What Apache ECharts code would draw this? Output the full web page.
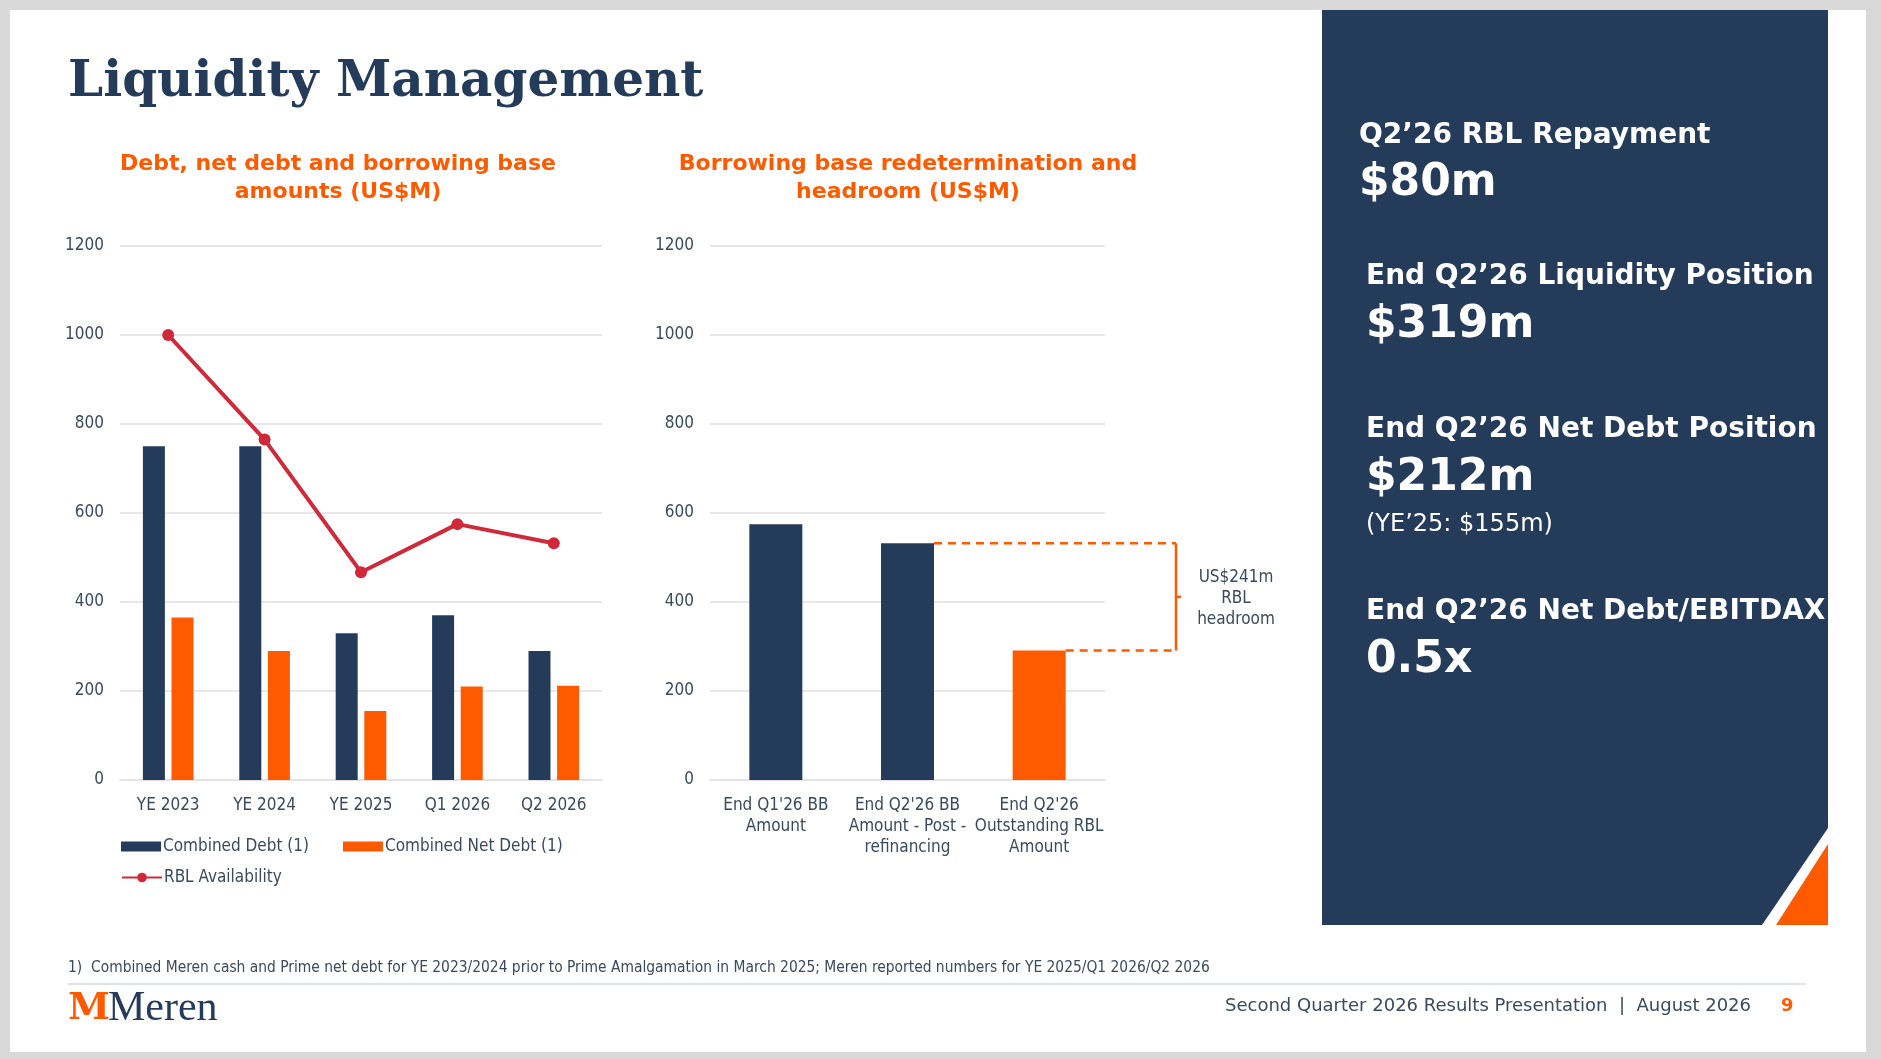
<!DOCTYPE html>
<html><head><meta charset="utf-8">
<script src="https://cdn.jsdelivr.net/npm/echarts@6/dist/echarts.min.js"></script>
<style>html,body{margin:0;padding:0;background:#d9d9d9}#c{width:1881px;height:1059px}</style>
</head><body><div id="c"></div>
<script>
const categories = ['YE 2023','YE 2024','YE 2025','Q1 2026','Q2 2026'];
const combinedDebt = [750, 750, 330, 370, 290];
const combinedNetDebt = [365, 290, 155, 210, 212];
const rblAvailability = [1000, 765, 467, 575, 532];
const bbCategories = ["End Q1'26 BB\nAmount", "End Q2'26 BB\nAmount - Post -\nrefinancing", "End Q2'26\nOutstanding RBL\nAmount"];
const bbValues = [575, 532, 291];
const yTicks = {min:0, max:1200, interval:200};

const NAVY = '#243b5a', ORANGE = '#ff5a00', RED = '#d0293a';
const F = '"DejaVu Sans Condensed","DejaVu Sans",sans-serif';
const chart = echarts.init(document.getElementById('c'));

const yAxisBase = (gi) => ({type:'value', gridIndex:gi, min:yTicks.min, max:yTicks.max, interval:yTicks.interval,
  axisLine:{show:false}, axisTick:{show:false},
  axisLabel:{color:'#3a4a5e', fontFamily:F, fontSize:17, margin:16, formatter:v=>String(v)},
  splitLine:{lineStyle:{color:'#e3dfe3', width:1.5}}});
const xAxisBase = (gi, data) => ({type:'category', gridIndex:gi, data,
  axisLine:{lineStyle:{color:'#e3dfe3', width:1.5}}, axisTick:{show:false},
  axisLabel:{color:'#3a4a5e', fontFamily:F, fontSize:17, margin:15, lineHeight:21, interval:0}});

const panelX = 1322, panelY = 10, panelW = 506, panelH = 915;
function txt(x, y, text, size, color, weight, family, extra) {
  return Object.assign({type:'text', left:x, top:y, style:{text, fill:color, font:(weight||'normal')+' '+size+'px '+(family||F)}}, extra||{});
}
const PF = '"DejaVu Sans",Verdana,sans-serif';

const graphics = [
  {type:'rect', left:10, top:10, shape:{width:1856, height:1042}, style:{fill:'#ffffff'}, z:-10},
  {type:'rect', left:panelX, top:panelY, shape:{width:panelW, height:panelH}, style:{fill:NAVY}, z:-5},
  {type:'polygon', shape:{points:[[1828,828],[1828,925],[1762,925]]}, style:{fill:'#ffffff'}, z:-4},
  {type:'polygon', shape:{points:[[1828,844],[1828,925],[1776,925]]}, style:{fill:ORANGE}, z:-3},
  txt(68, 58, 'Liquidity Management', 50, NAVY, 'bold', '"DejaVu Serif","Liberation Serif",serif'),
  txt(1359, 122, 'Q2\u201926 RBL Repayment', 28, '#ffffff', 'bold', PF),
  txt(1359, 162, '$80m', 44, '#ffffff', 'bold', PF),
  txt(1366, 263, 'End Q2\u201926 Liquidity Position', 28, '#ffffff', 'bold', PF),
  txt(1366, 304, '$319m', 44, '#ffffff', 'bold', PF),
  txt(1366, 416, 'End Q2\u201926 Net Debt Position', 28, '#ffffff', 'bold', PF),
  txt(1366, 457, '$212m', 44, '#ffffff', 'bold', PF),
  txt(1366, 513, '(YE\u201925: $155m)', 24, '#ffffff', 'normal', PF),
  txt(1366, 598, 'End Q2\u201926 Net Debt/EBITDAX', 28, '#ffffff', 'bold', PF),
  txt(1366, 639, '0.5x', 44, '#ffffff', 'bold', PF),
  {type:'text', x:338, y:150, style:{text:'Debt, net debt and borrowing base\namounts (US$M)', fill:ORANGE, font:'bold 22px '+PF, align:'center', lineHeight:28}},
  {type:'text', x:908, y:150, style:{text:'Borrowing base redetermination and\nheadroom (US$M)', fill:ORANGE, font:'bold 22px '+PF, align:'center', lineHeight:28}},
  {type:'text', x:1236, y:567, style:{text:'US$241m\nRBL\nheadroom', fill:'#3a4a5e', font:'17px '+F, align:'center', lineHeight:21}},
  txt(68, 960, '1)  Combined Meren cash and Prime net debt for YE 2023/2024 prior to Prime Amalgamation in March 2025; Meren reported numbers for YE 2025/Q1 2026/Q2 2026', 15.4, '#3a4a5e', 'normal', F),
  {type:'line', shape:{x1:68, y1:984, x2:1806, y2:984}, style:{stroke:'#d4d8de', lineWidth:1.5}},
  txt(68, 990, 'M', 38, ORANGE, 'bold', '"DejaVu Serif",serif'),
  txt(108, 988, 'Meren', 42, NAVY, 'normal', '"Liberation Serif","DejaVu Serif",serif'),
  {type:'text', x:1751, y:997, style:{text:'Second Quarter 2026 Results Presentation  |  August 2026', fill:'#3a4a5e', font:'18px '+PF, align:'right'}},
  txt(1781, 997, '9', 18, ORANGE, 'bold', PF)
];

const legText = {color:'#3a4a5e', fontFamily:F, fontSize:17, padding:[0,0,0,-3]};
chart.setOption({
  animation:false,
  grid:[{left:120, top:246, width:482, height:534}, {left:710, top:246, width:395, height:534}],
  xAxis:[xAxisBase(0, categories), xAxisBase(1, bbCategories)],
  yAxis:[yAxisBase(0), yAxisBase(1)],
  legend:[
    {left:116, top:833, itemGap:34, itemWidth:40, itemHeight:10, textStyle:legText,
      data:[{name:'Combined Debt (1)', icon:'rect'}, {name:'Combined Net Debt (1)', icon:'rect'}]},
    {left:116, top:864, itemWidth:40, itemHeight:12, textStyle:legText, data:[{name:'RBL Availability'}]}
  ],
  graphic:graphics,
  series:[
    {name:'Combined Debt (1)', type:'bar', xAxisIndex:0, yAxisIndex:0, data:combinedDebt, barWidth:22, barGap:'30%', itemStyle:{color:NAVY}},
    {name:'Combined Net Debt (1)', type:'bar', xAxisIndex:0, yAxisIndex:0, data:combinedNetDebt, barWidth:22, itemStyle:{color:ORANGE}},
    {name:'RBL Availability', type:'line', xAxisIndex:0, yAxisIndex:0, data:rblAvailability, symbol:'circle', symbolSize:12,
      lineStyle:{color:RED, width:4}, itemStyle:{color:RED}},
    {name:'BB', type:'bar', xAxisIndex:1, yAxisIndex:1, barWidth:53,
      data:bbValues.map((v,i)=>({value:v, itemStyle:{color: i===2 ? ORANGE : NAVY}}))}
  ]
});

const p2 = chart.convertToPixel({xAxisIndex:1, yAxisIndex:1}, [1, bbValues[1]]);
const p3 = chart.convertToPixel({xAxisIndex:1, yAxisIndex:1}, [2, bbValues[2]]);
const bx = 1176, hw = 26.5;
const ds = {stroke:ORANGE, lineWidth:2.5, lineDash:[8,6]};
chart.setOption({graphic: graphics.concat([
  {type:'line', shape:{x1:p2[0]+hw, y1:p2[1], x2:bx, y2:p2[1]}, style:ds},
  {type:'line', shape:{x1:p3[0]+hw, y1:p3[1], x2:bx, y2:p3[1]}, style:ds},
  {type:'line', shape:{x1:bx, y1:p2[1], x2:bx, y2:p3[1]}, style:{stroke:ORANGE, lineWidth:2.5}},
  {type:'line', shape:{x1:bx, y1:(p2[1]+p3[1])/2, x2:bx+5, y2:(p2[1]+p3[1])/2}, style:{stroke:ORANGE, lineWidth:2.5}}
])});
</script></body></html>
